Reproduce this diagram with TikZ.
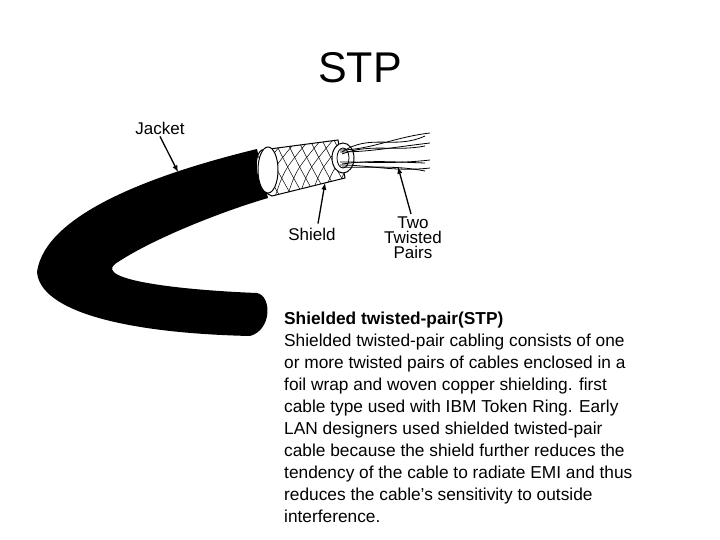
\documentclass[tikz,border=0pt]{standalone}
\usepackage{fontspec}
\setmainfont{Liberation Sans}
\begin{document}
\begin{tikzpicture}[x=1pt,y=-1pt,
  lbl/.style={font=\fontsize{17}{15}\selectfont,align=center,inner sep=0pt},
  pt/.style={-latex,line width=1.3pt},
  wire/.style={line width=0.8pt}]
\useasboundingbox (0,0) rectangle (720,540);
\node (title) at (360,68) {\fontsize{43}{46}\selectfont STP};
% jacket
\fill[black] (257,149) .. controls (150,175) and (45,215) .. (37,272)
  .. controls (40,310) and (120,333) .. (250,336)
  .. controls (272,330) and (272,296) .. (257,293)
  .. controls (180,290) and (95,280) .. (115,264)
  .. controls (150,240) and (220,212) .. (268,198) -- cycle;
% shield
\draw[fill=white,line width=1pt] (262,150) -- (338,140) -- (345,178) -- (272,196)
  .. controls (255,190) and (252,155) .. (262,150);
\begin{scope}
\clip (262,150) -- (338,140) -- (345,178) -- (272,196) .. controls (255,190) and (252,155) .. (262,150);
\foreach \i in {0,...,8}{
  \draw[line width=0.5pt] (250+\i*12,200) .. controls (260+\i*12,170) .. (285+\i*12,140);
  \draw[line width=0.5pt] (250+\i*12,140) .. controls (265+\i*12,170) .. (282+\i*12,200);}
\end{scope}
\draw[fill=white,line width=1pt] (268,170) ellipse (10 and 23);
\draw[fill=white,line width=1pt] (343,158) ellipse (11 and 15);
\draw[line width=0.8pt] (343,158) ellipse (6 and 10);
% wires
\foreach \y/\e in {150/133,152/143,162/160,165/168}{
  \draw[wire] (340,\y) .. controls (370,\y) and (395,\e+4) .. (430,\e);
  \draw[wire] (342,\y+2) .. controls (370,\e) and (395,\y) .. (425,\e+3);}
% labels
\node[lbl] (jacket) at (160,128) {Jacket};
\node[lbl] (shield) at (312,234) {Shield};
\node[lbl] (pairs) at (413,238) {Two\\Twisted\\Pairs};
\coordinate (jt) at (178,172);
\coordinate (st) at (325,183);
\coordinate (pt) at (398,167);
\draw[pt] (jacket.south) ++(0,2) -- (jt);
\draw[pt] (shield.north) ++(6,-4) -- (st);
\draw[pt] (pairs.north) ++(-2,-3) -- (pt);
% text
\node[anchor=north west,inner sep=0pt,align=left,font=\fontsize{17.3}{22}\selectfont] (body) at (284,312)
{\textbf{Shielded twisted-pair(STP)}\\
Shielded twisted-pair cabling consists of one\\
or more twisted pairs of cables enclosed in a\\
foil wrap and woven copper shielding. first\\
cable type used with IBM Token Ring. Early\\
LAN designers used shielded twisted-pair\\
cable because the shield further reduces the\\
tendency of the cable to radiate EMI and thus\\
reduces the cable’s sensitivity to outside\\
interference.};
\end{tikzpicture}
\end{document}
